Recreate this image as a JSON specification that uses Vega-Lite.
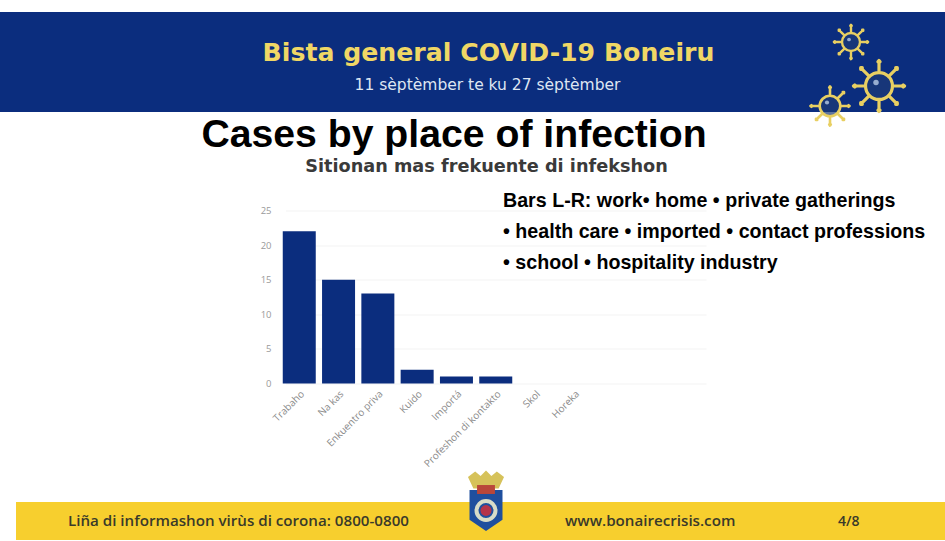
{
"$schema":"https://vega.github.io/schema/vega-lite/v6.json",
"width":430,"height":173,
"autosize":{"type":"none"},
"padding":{"left":275,"top":210.5,"right":240,"bottom":157.5},
"background":"#ffffff",
"config":{"view":{"stroke":null}},
"title":{"text":"Cases by place of infection","font":"Liberation Sans","fontWeight":"bold","fontSize":39.2,"color":"#000000","anchor":"middle","frame":"group","dx":-36,"offset":0,"dy":174,"baseline":"alphabetic"},
"data":{"values":[
{"place":"Trabaho","cases":22},
{"place":"Na kas","cases":15},
{"place":"Enkuentro priva","cases":13},
{"place":"Kuido","cases":2},
{"place":"Importá","cases":1},
{"place":"Profeshon di kontakto","cases":1},
{"place":"Skol","cases":0},
{"place":"Horeka","cases":0}
]},
"layer":[
{"data":{"values":[{}]},"mark":{"type":"rect","x":-275,"x2":670,"y":-198.5,"y2":-98.5,"fill":"#0b2d7e"},"encoding":{}},
{"data":{"values":[{}]},"mark":{"type":"rect","x":-259,"x2":670,"y":291.5,"y2":329.5,"fill":"#f7cf2e"},"encoding":{}},
{"mark":{"type":"bar","color":"#0b2d7e","width":33,"clip":false},
"encoding":{
"x":{"field":"place","type":"nominal","title":null,
"scale":{"domain":["Trabaho","Na kas","Enkuentro priva","Kuido","Importá","Profeshon di kontakto","Skol","Horeka"," ","  ","   "],"paddingInner":0.3,"paddingOuter":0,"range":[10.5,431]},
"axis":{"labelAngle":-45,"labelFontSize":10,"labelColor":"#8a8a8a","labelFont":"Open Sans","domain":false,"ticks":false,"grid":false,"labelPadding":5}},
"y":{"field":"cases","type":"quantitative","title":null,
"scale":{"domain":[0,25],"nice":false},
"axis":{"values":[0,5,10,15,20,25],"labelFontSize":9.5,"labelColor":"#9a9a9a","labelFont":"Open Sans","domain":false,"ticks":false,"gridColor":"#f3f3f3","gridWidth":1,"labelPadding":4}}
}},
{"data":{"values":[{}]},"mark":{"type":"text","text":"Sitionan mas frekuente di infekshon","x":211.5,"y":-43.5,"align":"center","baseline":"middle","font":"DejaVu Sans","fontWeight":"bold","fontSize":17.7,"color":"#3a3a3a"},"encoding":{}},
{"data":{"values":[{}]},"mark":{"type":"text","text":["Bars L-R: work• home • private gatherings","• health care • imported • contact professions","• school • hospitality industry"],"x":228,"y":-4,"align":"left","baseline":"alphabetic","lineHeight":31,"font":"Liberation Sans","fontWeight":"bold","fontSize":19.65,"color":"#000000"},"encoding":{}},
{"data":{"values":[{}]},"mark":{"type":"text","text":"Bista general COVID-19 Boneiru","x":213.5,"y":-157.5,"align":"center","baseline":"middle","font":"DejaVu Sans","fontWeight":"bold","fontSize":25.2,"color":"#f0d765"},"encoding":{}},
{"data":{"values":[{}]},"mark":{"type":"text","text":"11 sèptèmber te ku 27 sèptèmber","x":212.5,"y":-125.5,"align":"center","baseline":"middle","font":"DejaVu Sans","fontSize":15.5,"color":"#dfe6f2"},"encoding":{}},
{"data":{"values":[{}]},"mark":{"type":"text","text":"Liña di informashon virùs di corona: 0800-0800","x":-207,"y":315,"align":"left","baseline":"alphabetic","font":"Open Sans","fontWeight":600,"fontSize":15.15,"color":"#3a3a2a"},"encoding":{}},
{"data":{"values":[{}]},"mark":{"type":"text","text":"www.bonairecrisis.com","x":290,"y":315,"align":"left","baseline":"alphabetic","font":"Open Sans","fontWeight":600,"fontSize":15.15,"color":"#3a3a2a"},"encoding":{}},
{"data":{"values":[{}]},"mark":{"type":"text","text":"4/8","x":563,"y":315,"align":"left","baseline":"alphabetic","font":"Open Sans","fontWeight":600,"fontSize":14,"color":"#3a3a2a"},"encoding":{}},
{"data":{"values":[{}]},"mark":{"type":"point","filled":true,"shape":"circle","x":576,"y":-168.5,"size":320,"color":"#1c3b78"},"encoding":{}},
{"data":{"values":[{}]},"mark":{"type":"point","filled":true,"shape":"circle","x":604,"y":-124.5,"size":720,"color":"#1c3b78"},"encoding":{}},
{"data":{"values":[{}]},"mark":{"type":"point","filled":true,"shape":"circle","x":555,"y":-104.5,"size":420,"color":"#1c3b78"},"encoding":{}},
{"data":{"values":[{}]},"mark":{"type":"point","filled":true,"shape":"circle","x":601,"y":-128,"size":30,"color":"#cfe0f5"},"encoding":{}},
{"data":{"values":[{}]},"mark":{"type":"point","filled":true,"shape":"circle","x":574,"y":-171,"size":14,"color":"#cfe0f5"},"encoding":{}},
{"data":{"values":[{}]},"mark":{"type":"point","filled":true,"shape":"circle","x":552,"y":-108,"size":18,"color":"#cfe0f5"},"encoding":{}},
{"data":{"values":[{}]},"mark":{"type":"point","filled":false,"opacity":1,"strokeWidth":2.4,"strokeCap":"round","strokeJoin":"round","color":"#e8cf62","x":576,"y":-168.5,"size":1300,
"shape":"M.5,0A.5,.5 0 1 1 -.5,0A.5,.5 0 1 1 .5,0ZM.5,0L.85,0L.9,-.04L.95,0L.9,.04L.85,0M-.5,0L-.85,0L-.9,-.04L-.95,0L-.9,.04L-.85,0M0,.5L0,.85L-.04,.9L0,.95L.04,.9L0,.85M0,-.5L0,-.85L-.04,-.9L0,-.95L.04,-.9L0,-.85M.35,.35L.62,.62L.68,.62L.68,.68L.62,.68L.62,.62M-.35,.35L-.62,.62L-.68,.62L-.68,.68L-.62,.68L-.62,.62M.35,-.35L.62,-.62L.68,-.62L.68,-.68L.62,-.68L.62,-.62M-.35,-.35L-.62,-.62L-.68,-.62L-.68,-.68L-.62,-.68L-.62,-.62"},"encoding":{}},
{"data":{"values":[{}]},"mark":{"type":"point","filled":false,"opacity":1,"strokeWidth":3.2,"strokeCap":"round","strokeJoin":"round","color":"#e8cf62","x":604,"y":-124.5,"size":2900,
"shape":"M.5,0A.5,.5 0 1 1 -.5,0A.5,.5 0 1 1 .5,0ZM.5,0L.85,0L.9,-.04L.95,0L.9,.04L.85,0M-.5,0L-.85,0L-.9,-.04L-.95,0L-.9,.04L-.85,0M0,.5L0,.85L-.04,.9L0,.95L.04,.9L0,.85M0,-.5L0,-.85L-.04,-.9L0,-.95L.04,-.9L0,-.85M.35,.35L.62,.62L.68,.62L.68,.68L.62,.68L.62,.62M-.35,.35L-.62,.62L-.68,.62L-.68,.68L-.62,.68L-.62,.62M.35,-.35L.62,-.62L.68,-.62L.68,-.68L.62,-.68L.62,-.62M-.35,-.35L-.62,-.62L-.68,-.62L-.68,-.68L-.62,-.68L-.62,-.62"},"encoding":{}},
{"data":{"values":[{}]},"mark":{"type":"point","filled":false,"opacity":1,"strokeWidth":2.6,"strokeCap":"round","strokeJoin":"round","color":"#e8cf62","x":555,"y":-104.5,"size":1700,
"shape":"M.5,0A.5,.5 0 1 1 -.5,0A.5,.5 0 1 1 .5,0ZM.5,0L.85,0L.9,-.04L.95,0L.9,.04L.85,0M-.5,0L-.85,0L-.9,-.04L-.95,0L-.9,.04L-.85,0M0,.5L0,.85L-.04,.9L0,.95L.04,.9L0,.85M0,-.5L0,-.85L-.04,-.9L0,-.95L.04,-.9L0,-.85M.35,.35L.62,.62L.68,.62L.68,.68L.62,.68L.62,.62M-.35,.35L-.62,.62L-.68,.62L-.68,.68L-.62,.68L-.62,.62M.35,-.35L.62,-.62L.68,-.62L.68,-.68L.62,-.68L.62,-.62"},"encoding":{}},
{"data":{"values":[{}]},"mark":{"type":"point","filled":true,"opacity":1,"color":"#1f4f9e","x":211,"y":300,"size":1700,"shape":"M-.8,-1L.8,-1L.8,.45L0,1L-.8,.45Z"},"encoding":{}},
{"data":{"values":[{}]},"mark":{"type":"point","filled":true,"opacity":1,"color":"#d6c25a","x":211,"y":270,"size":1300,"shape":"M-1,-.2L-.6,-.5L-.3,-.25L0,-.55L.3,-.25L.6,-.5L1,-.2L.7,.45L-.7,.45Z"},"encoding":{}},
{"data":{"values":[{}]},"mark":{"type":"point","filled":true,"opacity":1,"color":"#b9473a","x":211,"y":279,"size":320,"shape":"M-1,-.5L1,-.5L1,.5L-1,.5Z"},"encoding":{}},
{"data":{"values":[{}]},"mark":{"type":"point","filled":false,"opacity":1,"strokeWidth":4,"color":"#d8dcc8","x":211,"y":300,"size":360,"shape":"circle"},"encoding":{}},
{"data":{"values":[{}]},"mark":{"type":"point","filled":true,"opacity":1,"color":"#b5334a","x":211,"y":300,"size":120,"shape":"circle"},"encoding":{}}
]
}
